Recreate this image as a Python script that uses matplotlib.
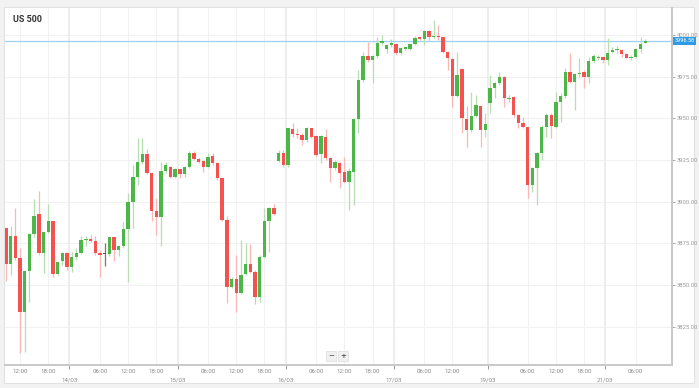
import numpy as np
import matplotlib
matplotlib.use("Agg")
import matplotlib.pyplot as plt
from matplotlib.patches import Rectangle

plt.rcParams['font.family'] = ['Roboto', 'DejaVu Sans']

# hourly candles, US 500
opens = [3884, 3862.4, 3879.6, 3866, 3834, 3858.4, 3880.6, 3892.4, 3869.4, 3882,
         3888.6, 3856.6, 3864.6, 3869.4, 3860.6, 3866.6, 3869.4, 3877, 3877.6, 3876.4,
         3869.4, 3868.6, 3868.6, 3879, 3871, 3873.4, 3883.4, 3900, 3915, 3923.6,
         3928.6, 3917.4, 3894.4, 3891, 3918.6, 3921, 3915, 3919.4, 3916.4, 3921,
         3929.4, 3925.6, 3924.6, 3920.6, 3927.4, 3923, 3914, 3889, 3849, 3853.4,
         3845.4, 3856.6, 3862.6, 3858, 3843, 3866.6, 3888.6, 3896, 3924.6, 3929.4,
         3922, 3943.4, 3940.4, 3940, 3937, 3944, 3939.4, 3928.6, 3939, 3926,
         3920, 3923.4, 3918, 3911.6, 3918, 3949.4, 3973, 3987.4, 3985, 3987.4,
         3995, 3991.6, 3994, 3994.6, 3989, 3991.8, 3991.6, 3994.4, 3998.6, 3997.4,
         4002.6, 3998.6, 3999.6, 3998.6, 3990, 3985.4, 3963.4, 3979.4, 3949.6, 3943,
         3951.4, 3957.4, 3943, 3959, 3968, 3971, 3975, 3961.6, 3963, 3952,
         3947, 3945, 3910, 3920.4, 3929, 3945, 3952, 3945, 3960, 3963.6,
         3977.6, 3972, 3976.4, 3978, 3974.6, 3984.4, 3986, 3987, 3985, 3990,
         3991, 3991, 3988.6, 3986, 3987, 3991.6, 3995]
highs = [3884, 3885.4, 3896, 3872, 3859, 3881, 3901.6, 3906.4, 3882, 3898.6,
         3888.6, 3864, 3870, 3870, 3870, 3872, 3879.4, 3879.4, 3880, 3879.4,
         3871, 3875.4, 3879, 3879, 3873.4, 3888, 3905, 3922, 3938, 3938,
         3931.6, 3917.6, 3902, 3923.6, 3923.6, 3921.5, 3920, 3919.8, 3921.5, 3930.6,
         3930.6, 3926.5, 3925, 3929.4, 3929.4, 3923.6, 3914.5, 3891.4, 3855, 3868,
         3877, 3875.4, 3874.6, 3859, 3868, 3896, 3897, 3898.4, 3931, 3931,
         3944.5, 3947.4, 3944, 3941, 3945, 3944.5, 3940, 3940, 3943.4, 3926.5,
         3925, 3924, 3927, 3920, 3950, 3979, 3990, 3996, 3988, 3999,
         4000, 3994.5, 3997.4, 3995, 3993, 3993, 3995, 3999.6, 3999.4, 4003,
         4003, 4009, 4006, 3999, 3990.5, 3986, 3990, 3980, 3957.4, 3966,
         3964, 3958, 3953, 3976, 3972, 3978, 3975.4, 3964, 3963.4, 3952.4,
         3951, 3945, 3921, 3930, 3946, 3953, 3953, 3966, 3965, 3980,
         3989, 3977, 3986, 3979, 3986.6, 3988.4, 3988, 3987.4, 3998, 3993,
         3993.4, 3991.4, 3989, 3988, 3992, 3999, 3997.6]
lows = [3852.4, 3856, 3865, 3809, 3810, 3840, 3879, 3868, 3857.4, 3881,
        3854.6, 3856, 3862, 3859, 3858, 3865, 3868.5, 3873.4, 3876, 3868,
        3855, 3861.6, 3867.5, 3864.4, 3867.4, 3872.5, 3852, 3884, 3910, 3922.5,
        3916.5, 3888.6, 3880, 3873.4, 3917, 3914.5, 3914, 3914, 3915, 3920.5,
        3925, 3923, 3918, 3920, 3922, 3913, 3888.5, 3839, 3848, 3834,
        3844.5, 3856, 3857, 3838.6, 3840, 3866, 3870, 3892, 3924, 3920.6,
        3921, 3939, 3938, 3934, 3936, 3938, 3927, 3923, 3925, 3912,
        3919, 3908.4, 3911, 3895, 3898, 3941, 3972, 3984, 3971.4, 3986,
        3994, 3989, 3993, 3988, 3988, 3991, 3991, 3994, 3997, 3994,
        3997, 3998, 3997, 3989, 3979, 3957, 3963, 3941.4, 3933, 3942,
        3951, 3933, 3939, 3953, 3962, 3970, 3957, 3960, 3951, 3944,
        3944, 3902, 3906, 3898, 3925, 3939, 3938, 3944, 3948, 3962,
        3971, 3955, 3975, 3968, 3971, 3983, 3985, 3983, 3982, 3989,
        3989, 3987, 3986, 3985, 3986, 3989, 3995]
closes = [3862.4, 3879.6, 3866.4, 3834, 3858.4, 3880.6, 3891.6, 3869.4, 3882, 3888.6,
          3856.6, 3863.6, 3869.4, 3860.6, 3867, 3869.4, 3877, 3877.6, 3876.6, 3869.4,
          3868, 3868.6, 3879, 3871, 3873.4, 3883.4, 3900, 3915, 3923.6, 3928.6,
          3917.4, 3894.4, 3891, 3918.6, 3922, 3915, 3919.4, 3916.4, 3921, 3929.4,
          3925.6, 3924, 3920.6, 3927, 3923.4, 3914, 3889, 3849, 3853.4, 3845.4,
          3856, 3862.6, 3858, 3843, 3866.6, 3888.6, 3896, 3892.6, 3929, 3922,
          3944, 3940.4, 3940, 3937, 3944, 3939, 3928, 3939.4, 3926, 3920.4,
          3923.6, 3917.4, 3912, 3918.6, 3949.4, 3973, 3987.6, 3985, 3987.4, 3995,
          3996.6, 3994, 3995, 3989, 3992, 3992.6, 3994.4, 3998, 3997.4, 4002.6,
          3998.6, 3999.4, 3999, 3990, 3986, 3963.4, 3976, 3950, 3943, 3951.4,
          3958, 3943, 3946.6, 3968, 3971, 3975, 3962, 3962.4, 3952, 3947,
          3945, 3910, 3920.4, 3929, 3945, 3952, 3945.6, 3960, 3963.6, 3978,
          3972, 3976.4, 3977.4, 3974.6, 3984.4, 3987.4, 3986.6, 3985, 3989.4, 3991,
          3991.4, 3988.4, 3986.4, 3987, 3991.6, 3994.6, 3996.58]

hour_pos = [3, 9, 20, 26, 32, 43, 49, 55, 66, 72, 78, 89, 95, 111, 117, 123, 134]
hour_labels = ["12:00", "18:00", "06:00", "12:00", "18:00", "06:00", "12:00", "18:00",
               "06:00", "12:00", "18:00", "06:00", "12:00", "06:00", "12:00", "18:00", "06:00"]
date_pos = [13.5, 36.5, 59.5, 82.5, 102.5, 127.5]
date_labels = ["14/03", "15/03", "16/03", "17/03", "19/03", "21/03"]
price_ticks = [3825, 3850, 3875, 3900, 3925, 3950, 3975, 4000]

GREEN = "#4cb648"
RED = "#f5514f"
GREEN_W = "#b5dfae"
RED_W = "#f9b7b5"

fig = plt.figure(figsize=(6.99, 3.88), dpi=100, facecolor="#f2f2f2")
# white panel behind the chart
panel = Rectangle((4 / 699, 5 / 388), 690 / 699, 376 / 388,
                  transform=fig.transFigure, facecolor="white",
                  edgecolor="#e2e2e2", lw=0.8, zorder=-5)
fig.add_artist(panel)
ax = fig.add_axes([5 / 699, 23 / 388, 667 / 699, 357 / 388])
ax.set_zorder(1)
ax.set_facecolor("white")

o = np.array(opens)
h = np.array(highs)
l = np.array(lows)
c = np.array(closes)
x = np.arange(len(o))
up = c >= o
for i in range(len(o)):
    if abs(c[i] - o[i]) < 0.05:
        col, wc = "#555555", "#777777"
    elif up[i]:
        col, wc = GREEN, GREEN_W
    else:
        col, wc = RED, RED_W
    ax.vlines(x[i], l[i], h[i], color=wc, lw=0.9, zorder=2)
    bot = min(o[i], c[i])
    hgt = max(abs(c[i] - o[i]), 0.7)
    ax.bar(x[i], hgt, bottom=bot, width=0.72, color=col, lw=0, zorder=3)

ax.set_xlim(-0.2, 141.7)
ax.set_ylim(3802, 4016.2)

# grid
for p in price_ticks:
    ax.axhline(p, color="#f1f1f1", lw=0.8, zorder=0)
for p in hour_pos:
    ax.axvline(p, color="#f1f1f1", lw=0.8, zorder=0)
for p in date_pos:
    ax.axvline(p, color="#e8e8e8", lw=1.1, zorder=0)

# current price line
last = closes[-1]
ax.axhline(last, color="#9fd0f2", lw=0.9, zorder=1)
ax.text(1.004, last, f"{last:.2f}", transform=ax.get_yaxis_transform(),
        fontsize=4.1, color="white", va="center", ha="left",
        bbox=dict(boxstyle="square,pad=0.25", fc="#2d9be6", ec="none"), zorder=5,
        clip_on=False)

ax.yaxis.tick_right()
ax.set_yticks(price_ticks, [f"{p:.2f}" for p in price_ticks])
ax.tick_params(axis="y", labelsize=4.2, colors="#9a9a9a", length=2, width=0.6, pad=1.2)

ax.set_xticks(hour_pos, hour_labels)
ax.set_xticks(date_pos, date_labels, minor=True)
ax.tick_params(axis="x", which="major", labelsize=4.4, colors="#8a8a8a", length=0, pad=3)
ax.tick_params(axis="x", which="minor", labelsize=4.4, colors="#8a8a8a", length=3,
               width=0.6, pad=6)

for s in ["top", "left"]:
    ax.spines[s].set_visible(False)
for s in ["bottom", "right"]:
    ax.spines[s].set_color("#c8c8c8")
    ax.spines[s].set_linewidth(1.4)

ax.text(0.012, 0.968, "US 500", transform=ax.transAxes, fontsize=6.5, fontweight="bold",
        color="#333333", va="center", ha="left")

# zoom buttons
for xp, s in [(331 / 699, "\u2212"), (343 / 699, "+")]:
    fig.text(xp, (388 - 356) / 388, s, fontsize=5, fontweight="bold", color="#555555",
             ha="center", va="center", zorder=6, family="DejaVu Sans",
             bbox=dict(boxstyle="square,pad=0.3", fc="#f0f0f0", ec="#dddddd", lw=0.5))

fig.savefig("out.png", dpi=100, facecolor=fig.get_facecolor())
